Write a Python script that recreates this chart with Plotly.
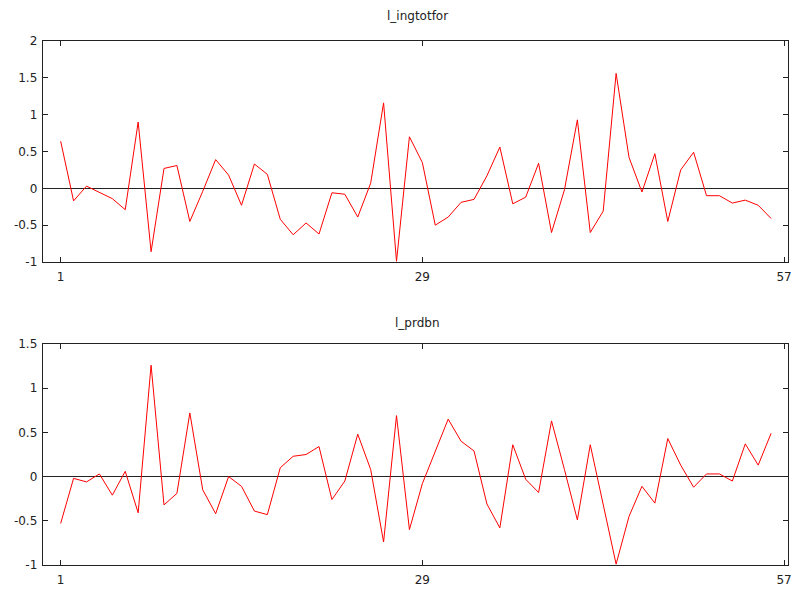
import plotly.graph_objects as go

obs = list(range(1, 57))

l_ingtotfor = [0.64, -0.17, 0.03, -0.06, -0.14, -0.29, 0.90, -0.86, 0.27, 0.31,
               -0.45, -0.04, 0.39, 0.18, -0.23, 0.33, 0.19, -0.42, -0.63, -0.47,
               -0.62, -0.06, -0.08, -0.39, 0.07, 1.16, -0.99, 0.70, 0.35, -0.50,
               -0.39, -0.19, -0.15, 0.17, 0.56, -0.21, -0.12, 0.34, -0.60, -0.02,
               0.93, -0.60, -0.31, 1.56, 0.42, -0.05, 0.47, -0.45, 0.25, 0.49,
               -0.10, -0.10, -0.20, -0.16, -0.23, -0.41]

l_prdbn = [-0.53, -0.02, -0.06, 0.03, -0.21, 0.06, -0.41, 1.26, -0.32, -0.19,
           0.72, -0.15, -0.42, 0.00, -0.11, -0.39, -0.43, 0.10, 0.23, 0.25,
           0.34, -0.26, -0.05, 0.48, 0.08, -0.74, 0.69, -0.60, -0.08, 0.29,
           0.65, 0.40, 0.29, -0.31, -0.58, 0.36, -0.03, -0.18, 0.63, 0.08,
           -0.49, 0.36, -0.32, -0.99, -0.45, -0.11, -0.30, 0.43, 0.13, -0.12,
           0.03, 0.03, -0.05, 0.37, 0.13, 0.49]

titles = ["l_ingtotfor", "l_prdbn"]
x_ticks = [1, 29, 57]
y1_ticks = [-1, -0.5, 0, 0.5, 1, 1.5, 2]
y2_ticks = [-1, -0.5, 0, 0.5, 1, 1.5]

W, H = 792, 590
FONT = "DejaVu Sans"

fig = go.Figure()
fig.add_trace(go.Scatter(x=obs, y=l_ingtotfor, mode="lines",
                         line=dict(color="#ff0000", width=1),
                         xaxis="x", yaxis="y", showlegend=False))
fig.add_trace(go.Scatter(x=obs, y=l_prdbn, mode="lines",
                         line=dict(color="#ff0000", width=1),
                         xaxis="x2", yaxis="y2", showlegend=False))

xdom = [42.7 / W, 788.3 / W]
ydom1 = [1 - 262 / H, 1 - 41 / H]
ydom2 = [1 - 565 / H, 1 - 344 / H]

common_x = dict(range=[-0.39, 57.33], tickvals=x_ticks, ticktext=[str(v) for v in x_ticks],
                ticks="inside", ticklen=5, tickcolor="#222", mirror="allticks",
                showline=True, linecolor="#222", linewidth=1, showgrid=False,
                zeroline=False, domain=xdom, tickfont=dict(family=FONT, size=12, color="#222"),
                ticklabelstandoff=4, automargin=False)

def yaxis(rng, ticks, dom, anchor):
    return dict(range=rng, tickvals=ticks, ticktext=[f"{v:g}" for v in ticks],
                ticks="inside", ticklen=5, tickcolor="#222", mirror="allticks",
                showline=True, linecolor="#222", linewidth=1, showgrid=False,
                zeroline=True, zerolinecolor="#222", zerolinewidth=1,
                domain=dom, anchor=anchor, tickfont=dict(family=FONT, size=12, color="#222"),
                ticklabelstandoff=2, automargin=False)

fig.update_layout(
    width=W, height=H,
    margin=dict(l=0, r=0, t=0, b=0),
    plot_bgcolor="white", paper_bgcolor="white",
    xaxis=dict(common_x, anchor="y"),
    xaxis2=dict(common_x, anchor="y2"),
    yaxis=yaxis([-1, 2], y1_ticks, ydom1, "x"),
    yaxis2=yaxis([-1, 1.5], y2_ticks, ydom2, "x2"),
    annotations=[
        dict(text=titles[0], x=0.527, y=1 - 16 / H, xref="paper", yref="paper",
             xanchor="center", yanchor="middle",
             showarrow=False, font=dict(family=FONT, size=12, color="#222")),
        dict(text=titles[1], x=0.527, y=1 - 323 / H, xref="paper", yref="paper",
             xanchor="center", yanchor="middle",
             showarrow=False, font=dict(family=FONT, size=12, color="#222")),
    ],
)

fig.write_html("out.html", config={"displayModeBar": False},
               post_script="document.body.style.margin='0';document.body.style.overflow='hidden';")
